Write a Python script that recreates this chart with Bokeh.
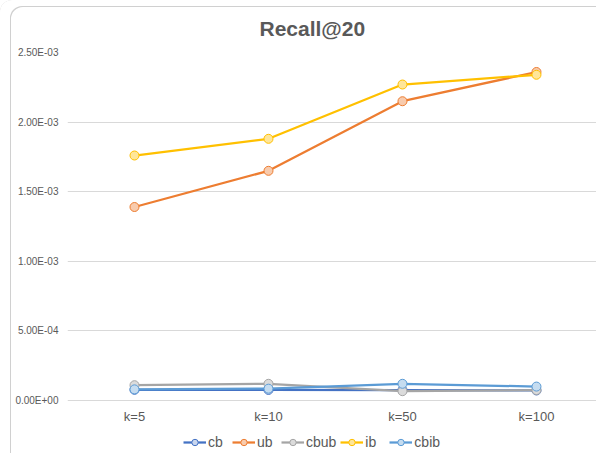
from bokeh.plotting import figure
from bokeh.models import Range1d, FixedTicker, CustomJSTickFormatter, Legend, LegendItem
from bokeh.embed import file_html
from bokeh.resources import INLINE

categories = ["k=5", "k=10", "k=50", "k=100"]
cb = [7.7e-5, 7.6e-5, 7.5e-5, 7.2e-5]
ub = [1.39e-3, 1.65e-3, 2.15e-3, 2.36e-3]
cbub = [1.10e-4, 1.20e-4, 6.7e-5, 7.5e-5]
ib = [1.76e-3, 1.88e-3, 2.27e-3, 2.34e-3]
cbib = [8.0e-5, 8.5e-5, 1.20e-4, 1.00e-4]
y_ticks = [0.0, 5e-4, 1e-3, 1.5e-3, 2e-3, 2.5e-3]

series = [
    ("cb", cb, "#4472C4", "#C9D6EE"),
    ("ub", ub, "#ED7D31", "#F8CBAD"),
    ("cbub", cbub, "#A5A5A5", "#DBDBDB"),
    ("ib", ib, "#FFC000", "#FFE699"),
    ("cbib", cbib, "#5B9BD5", "#C5DCF0"),
]

xs = [i + 0.5 for i in range(len(categories))]

p = figure(width=596, height=453, output_backend="svg", toolbar_location=None,
           x_range=Range1d(0, 3.948), y_range=Range1d(-3.807e-4, 2.5e-3),
           min_border_left=67, min_border_right=0, min_border_top=52, min_border_bottom=0)
p.border_fill_color = None

p.title.text = "Recall@20"
p.title.text_font = "Liberation Sans"
p.title.text_font_size = "21px"
p.title.text_font_style = "bold"
p.title.text_color = "#595959"
p.title.align = "left"
p.title.offset = 192
p.title.standoff = 25

p.outline_line_color = None
p.xgrid.grid_line_color = None
p.ygrid.grid_line_color = "#D9D9D9"
p.ygrid.grid_line_width = 1

p.xaxis.ticker = FixedTicker(ticks=xs)
p.xaxis.major_label_overrides = {x: c for x, c in zip(xs, categories)}
p.xaxis.fixed_location = 0
p.yaxis.ticker = FixedTicker(ticks=y_ticks)
p.yaxis.formatter = CustomJSTickFormatter(code="""
const s = tick.toExponential(2).toUpperCase();
const parts = s.split("E");
const e = parts[1];
const sign = e[0];
const d = e.slice(1).padStart(2, "0");
return parts[0] + "E" + sign + d;
""")
for ax in (p.xaxis[0], p.yaxis[0]):
    ax.axis_line_color = None
    ax.major_tick_line_color = None
    ax.minor_tick_line_color = None
    ax.major_label_text_color = "#595959"
    ax.major_label_text_font = "Liberation Sans"
p.xaxis.major_label_text_font_size = "13px"
p.yaxis.major_label_text_font_size = "10px"
p.xaxis.major_label_standoff = 2
p.yaxis.major_label_standoff = 3

items = []
for name, vals, col, fill in series:
    r1 = p.line(xs, vals, line_color=col, line_width=2.25)
    r2 = p.scatter(xs, vals, size=9, marker="circle", line_color=col, fill_color=fill, line_width=1)
    items.append(LegendItem(label=name, renderers=[r1, r2]))

legend = Legend(items=items, orientation="horizontal", location=(116, 3),
                label_text_font="Liberation Sans", label_text_font_size="14px",
                label_text_color="#595959", border_line_color=None,
                background_fill_alpha=0, glyph_width=23, glyph_height=16,
                label_standoff=2, spacing=4, padding=2, margin=0)
p.add_layout(legend, "center")

p.styles = {"box-shadow": "inset 10px 6px 0 0 #FFFFFF, inset 11px 7px 0 0 #D0D0D0",
            "border-top-left-radius": "12px"}

open("out.html", "w").write(file_html(p, INLINE))
